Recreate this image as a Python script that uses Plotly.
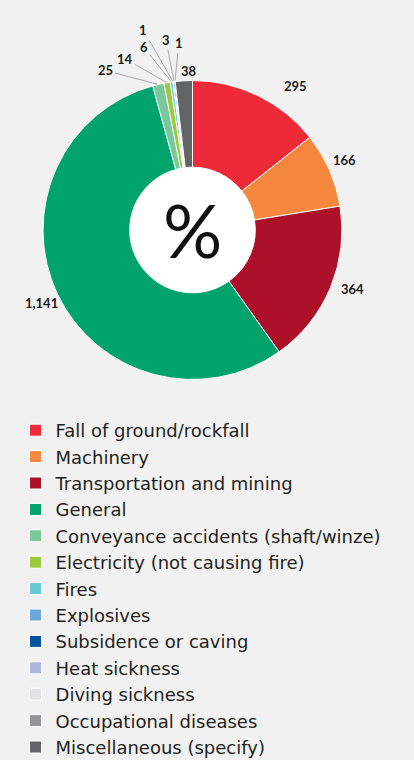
import math
import plotly.graph_objects as go

categories = ["Fall of ground/rockfall", "Machinery", "Transportation and mining", "General",
              "Conveyance accidents (shaft/winze)", "Electricity (not causing fire)", "Fires",
              "Explosives", "Subsidence or caving", "Heat sickness", "Diving sickness",
              "Occupational diseases", "Miscellaneous (specify)"]
values = [295, 166, 364, 1141, 25, 14, 6, 1, 3, 1, 0, 0, 38]
colors = ["#EE2A39", "#F5873F", "#AC1129", "#00A36C", "#79C89B", "#9BC83C", "#66C9D0",
          "#6BA8DB", "#0052A0", "#AEB6DC", "#E2E3E5", "#929497", "#636466"]

# label placement (pixel offsets from each slice's outer mid point); None = no label
label_offsets = [(38, -9), (15, -10), (22, 1), (-16, 9), (-53, -14), (-42, -24), (-28, -35),
                 (-30, -52), (-8, -42), (4, -39), None, None, (5, -10)]
use_leader = [False, False, False, False, True, True, True, True, True, True, False, False, False]

W, H = 414, 760
CX, CY, R = 192.5, 230, 149.5
HOLE = 0.42

def px2paper(x, y):
    return x / W, 1 - y / H

x0, y1 = px2paper(CX - R, CY - R)
x1, y0 = px2paper(CX + R, CY + R)
hr = R * HOLE + 1
hx0, hy1 = px2paper(CX - hr, CY - hr)
hx1, hy0 = px2paper(CX + hr, CY + hr)

fig = go.Figure()
# white centre disc
fig.add_trace(go.Pie(values=[1], marker=dict(colors=["#FFFFFF"], line=dict(width=0)),
                     textinfo="none", hoverinfo="skip", showlegend=False, sort=False,
                     domain=dict(x=[hx0, hx1], y=[hy0, hy1])))
fig.add_trace(go.Pie(
    labels=categories, values=values, textinfo="none", sort=False,
    direction="clockwise", rotation=0, hole=HOLE,
    marker=dict(colors=colors, line=dict(color="white", width=1)),
    domain=dict(x=[x0, x1], y=[y0, y1]),
))

total = sum(values)
cum = 0
for v, off, lead in zip(values, label_offsets, use_leader):
    mid = (cum + v / 2) / total * 2 * math.pi
    cum += v
    if off is None or v == 0:
        continue
    ex = CX + R * math.sin(mid)
    ey = CY - R * math.cos(mid)
    px, py = px2paper(ex, ey)
    font = dict(family="Lato", size=13, color="#1a1a1a", weight="bold")
    if lead:
        fig.add_annotation(x=px, y=py, xref="paper", yref="paper", text=f"{v:,}",
                           showarrow=True, arrowhead=0, arrowwidth=1, arrowcolor="#A8A8A8",
                           ax=off[0], ay=off[1], standoff=1, startstandoff=1, font=font,
                           xanchor="center", yanchor="middle")
    else:
        fig.add_annotation(x=px, y=py, xref="paper", yref="paper", text=f"{v:,}",
                           showarrow=False, xshift=off[0], yshift=-off[1], font=font,
                           xanchor="center", yanchor="middle")

cxp, cyp = px2paper(CX, CY)
fig.add_annotation(text="%", x=cxp, y=cyp, xref="paper", yref="paper", showarrow=False,
                   xanchor="center", yanchor="middle",
                   font=dict(family="Lato", size=74, color="#111111"))

fig.update_layout(
    width=W, height=H, margin=dict(l=0, r=0, t=0, b=0, autoexpand=False),
    paper_bgcolor="#F1F1F1", plot_bgcolor="#F1F1F1",
    showlegend=True,
    legend=dict(x=0.0375, y=1 - 412 / H, xanchor="left", yanchor="top",
                font=dict(family="DejaVu Sans", size=18, color="#231F20"),
                itemwidth=30, bgcolor="rgba(0,0,0,0)"),
)
fig.write_html("out.html", config={"displayModeBar": False},
               post_script="document.body.style.margin='0px';")
